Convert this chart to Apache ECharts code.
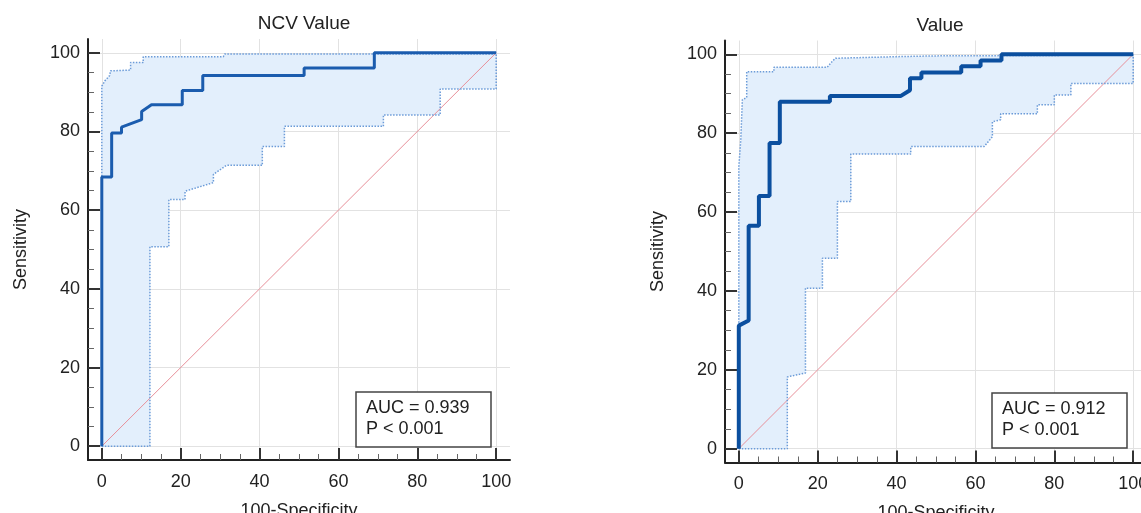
<!DOCTYPE html>
<html>
<head>
<meta charset="utf-8">
<script src="https://cdn.jsdelivr.net/npm/echarts@6/dist/echarts.min.js"></script>
<style>
  html, body { margin: 0; padding: 0; background: #fff; }
  #chart { width: 1141px; height: 513px; }
</style>
</head>
<body>
<div id="chart"></div>
<script>
// tick values
var majorTicks = [0, 20, 40, 60, 80, 100];
var minorTicks = [5, 10, 15, 25, 30, 35, 45, 50, 55, 65, 70, 75, 85, 90, 95];

var chartTitles = ['NCV Value', 'Value'];
var aucTexts = ['AUC = 0.939\nP < 0.001', 'AUC = 0.912\nP < 0.001'];

// chance line
var diagonal = [[0, 0], [100, 100]];

// NCV Value: ROC curve and 95% CI bounds (100-Specificity, Sensitivity)
var ncvRoc = [[0, 0], [0, 68.4], [2.5, 68.4], [2.5, 79.6], [5, 79.6], [5, 81.1], [10.1, 83],
  [10.1, 85.1], [12.6, 86.8], [20.4, 86.8], [20.4, 90.4], [25.6, 90.4], [25.6, 94.2],
  [51.3, 94.2], [51.3, 96.1], [69.1, 96.1], [69.1, 100], [100, 100]];
var ncvUpper = [[0, 0], [0, 91.5], [0.8, 92.9], [2, 94.2], [2.2, 95.4], [7.3, 95.6], [7.3, 97.5],
  [10.5, 97.5], [10.5, 99], [30.8, 99], [31.2, 99.7], [99, 99.7], [100, 100]];
var ncvLower = [[0, 0], [12.2, 0], [12.2, 50.7], [17, 50.7], [17, 62.7], [21.1, 62.7], [21.1, 64.8],
  [28.3, 67], [28.3, 69.1], [31.6, 71.4], [40.7, 71.4], [40.7, 76.2], [46.3, 76.2], [46.3, 81.3],
  [71.4, 81.3], [71.4, 84.2], [85.8, 84.2], [85.8, 90.8], [100, 90.8], [100, 100]];

// Value
var valRoc = [[0, 0], [0, 31.2], [2.5, 32.5], [2.5, 56.5], [5.1, 56.5], [5.1, 64.1], [7.8, 64.1],
  [7.8, 77.5], [10.4, 77.5], [10.4, 88], [23.1, 88], [23.1, 89.4], [41, 89.4], [43.4, 90.9],
  [43.4, 93.9], [46.3, 93.9], [46.3, 95.4], [56.4, 95.4], [56.4, 97], [61.3, 97], [61.3, 98.4],
  [66.6, 98.4], [66.6, 100], [100, 100]];
var valUpper = [[0, 0], [0, 71.5], [0.5, 78.3], [0.9, 88.5], [2, 89], [2, 95.6], [8.9, 95.6],
  [8.9, 96.7], [22.4, 96.7], [23.5, 98], [24.5, 99], [40, 99.4], [50, 99.6], [99, 99.8], [100, 100]];
var valLower = [[0, 0], [12.3, 0], [12.3, 18.2], [16.9, 19.2], [16.9, 40.7], [21.2, 40.7],
  [21.2, 48.3], [25, 48.3], [25, 62.7], [28.4, 62.7], [28.4, 74.7], [43.6, 74.7], [43.6, 76.6],
  [62.2, 76.6], [64.3, 79.1], [64.3, 82.9], [66.4, 83.4], [66.4, 84.9], [75.7, 84.9], [75.7, 87.2],
  [80, 87.2], [80, 89.7], [84.2, 89.7], [84.2, 92.6], [100, 92.6], [100, 100]];

var FONT = '"Liberation Sans", Arial, sans-serif';
var AX_MIN = -3.5, AX_MAX = 103.5;

function majorAxis(grid, pos, name, nameGap, margin) {
  return {
    type: 'value', gridIndex: grid, position: pos, min: AX_MIN, max: AX_MAX,
    name: name, nameLocation: 'middle', nameGap: nameGap,
    nameTextStyle: { fontFamily: FONT, fontSize: 18, color: '#222' },
    axisLine: { show: true, onZero: false, lineStyle: { color: '#222', width: 2 } },
    axisTick: { show: true, inside: true, length: 12, customValues: majorTicks,
      lineStyle: { color: '#333', width: 2 } },
    axisLabel: { show: true, customValues: majorTicks, margin: margin,
      fontFamily: FONT, fontSize: 18, color: '#222' },
    splitLine: { show: true, lineStyle: { color: '#e2e2e2', width: 1 } }
  };
}

function minorAxis(grid, pos) {
  return {
    type: 'value', gridIndex: grid, position: pos, min: AX_MIN, max: AX_MAX,
    axisLine: { show: false, onZero: false },
    axisTick: { show: true, inside: true, length: 6, customValues: minorTicks,
      lineStyle: { color: '#666', width: 1 } },
    axisLabel: { show: false },
    splitLine: { show: false }
  };
}

function bandSeries(upper, lower, axisIdx) {
  return {
    type: 'custom', xAxisIndex: axisIdx, yAxisIndex: axisIdx, silent: true, z: 1,
    data: [[0, 0]],
    renderItem: function (params, api) {
      var pts = upper.concat(lower.slice().reverse()).map(function (p) { return api.coord(p); });
      return { type: 'polygon', shape: { points: pts }, style: { fill: '#e3effc' } };
    }
  };
}

function lineSeries(data, axisIdx, style, z) {
  return {
    type: 'line', xAxisIndex: axisIdx, yAxisIndex: axisIdx, data: data,
    symbol: 'none', showSymbol: false, silent: true, z: z,
    lineStyle: style
  };
}

var ciStyle = { color: '#6b9bd8', width: 1.5, type: 'dotted' };
var diagStyle = { color: '#e8909a', width: 1 };

var chart = echarts.init(document.getElementById('chart'));
chart.setOption({
  animation: false,
  backgroundColor: '#fff',
  title: [
    { text: chartTitles[0], left: 299, top: 9, textAlign: 'center',
      textStyle: { fontFamily: FONT, fontSize: 19, fontWeight: 'normal', color: '#222' } },
    { text: chartTitles[1], left: 935, top: 11, textAlign: 'center',
      textStyle: { fontFamily: FONT, fontSize: 19, fontWeight: 'normal', color: '#222' } },
    { text: aucTexts[0], left: 356, top: 392, padding: [6, 22, 7, 10],
      backgroundColor: '#fff', borderColor: '#444', borderWidth: 1.5,
      textStyle: { fontFamily: FONT, fontSize: 18, lineHeight: 21, fontWeight: 'normal', color: '#222' } },
    { text: aucTexts[1], left: 992, top: 393, padding: [6, 22, 7, 10],
      backgroundColor: '#fff', borderColor: '#444', borderWidth: 1.5,
      textStyle: { fontFamily: FONT, fontSize: 18, lineHeight: 21, fontWeight: 'normal', color: '#222' } }
  ],
  grid: [
    { left: 88, top: 39, width: 422, height: 421, outerBoundsMode: 'none' },
    { left: 725, top: 40.5, width: 422, height: 422, outerBoundsMode: 'none' }
  ],
  xAxis: [
    majorAxis(0, 'bottom', '100-Specificity', 42, 13), minorAxis(0, 'bottom'),
    majorAxis(1, 'bottom', '100-Specificity', 42, 13), minorAxis(1, 'bottom')
  ],
  yAxis: [
    majorAxis(0, 'left', 'Sensitivity', 58, 8), minorAxis(0, 'left'),
    majorAxis(1, 'left', 'Sensitivity', 58, 8), minorAxis(1, 'left')
  ],
  series: [
    bandSeries(ncvUpper, ncvLower, 0),
    lineSeries(diagonal, 0, diagStyle, 2),
    lineSeries(ncvUpper, 0, ciStyle, 3),
    lineSeries(ncvLower, 0, ciStyle, 3),
    lineSeries(ncvRoc, 0, { color: '#1b5cae', width: 3 }, 4),

    bandSeries(valUpper, valLower, 2),
    lineSeries(diagonal, 2, diagStyle, 2),
    lineSeries(valUpper, 2, ciStyle, 3),
    lineSeries(valLower, 2, ciStyle, 3),
    lineSeries(valRoc, 2, { color: '#0b4f9f', width: 4 }, 4)
  ]
});
</script>
</body>
</html>
